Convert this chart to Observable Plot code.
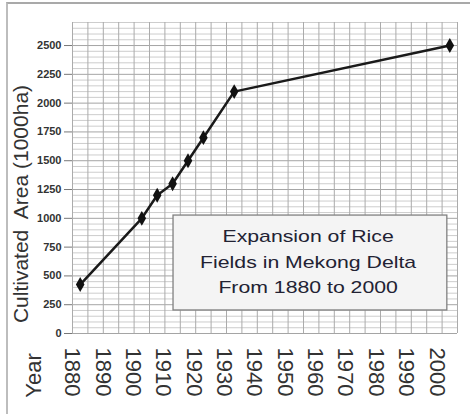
<!DOCTYPE html>
<html><head><meta charset="utf-8">
<script src="https://cdn.jsdelivr.net/npm/d3@7"></script>
<script src="https://cdn.jsdelivr.net/npm/@observablehq/plot@0.6"></script>
<style>
body{margin:0;background:#fff;}
#wrap{position:relative;width:470px;height:414px;overflow:hidden;background:#fff;}
#border{position:absolute;left:6px;top:2px;width:600px;height:600px;border-left:2px solid #bdbdbd;border-top:2px solid #a9a9a9;pointer-events:none;}
svg{font-family:"Liberation Sans", Arial, sans-serif;}
</style></head><body>
<div id="wrap"><div id="chart"></div><div id="border"></div></div>
<script>
// Data
const years = [1880, 1900, 1905, 1910, 1915, 1920, 1930, 2000];
const area  = [425, 1000, 1200, 1300, 1500, 1700, 2100, 2500];
const yTicks = [0, 250, 500, 750, 1000, 1250, 1500, 1750, 2000, 2250, 2500];
const yearLabels = [1880, 1890, 1900, 1910, 1920, 1930, 1940, 1950, 1960, 1970, 1980, 1990, 2000];
const titleLines = ["Expansion of Rice", "Fields in Mekong Delta", "From 1880 to 2000"];
const yTitle = "Cultivated  Area (1000ha)";
const xTitle = "Year";

const rows = years.map((y, i) => ({year: y, area: area[i]}));

// layout helpers (annotation placement in data units)
const xDomain = [1877.5, 2002.5];
const labelPos = L => 1877.5 + (L - 1880) * 0.985;
const labelMap = new Map(yearLabels.map(L => [labelPos(L), L]));
const box = {x1: 1910.3, x2: 1999.2, y1: 200, y2: 1024, tx: 1954, ty: 640};

const vGrid = d3.range(xDomain[0], xDomain[1] + 0.01, 5);
const hGridMinor = d3.range(0, 2701, 50).filter(v => v % 250 !== 0);
const hGridMajor = d3.range(0, 2701, 250);

const svg = Plot.plot({
  width: 470,
  height: 414,
  marginLeft: 72,
  marginRight: 13,
  marginTop: 22,
  marginBottom: 81,
  style: {fontFamily: '"Liberation Sans", Arial, sans-serif', background: "transparent"},
  x: {domain: xDomain},
  y: {domain: [0, 2700]},
  marks: [
    Plot.ruleY(hGridMinor, {stroke: "#cdcdcd", strokeWidth: 1}),
    Plot.ruleY(hGridMajor, {stroke: "#a5a5a5", strokeWidth: 1}),
    Plot.ruleX(vGrid, {stroke: "#ababab", strokeWidth: 1}),
    Plot.axisY({ticks: yTicks, tickFormat: d => String(d), tickSize: 8, tickPadding: 3,
      fontSize: 11, fontWeight: "bold", fill: "#333", stroke: "#777", label: null}),
    Plot.axisX({ticks: yearLabels.map(labelPos), tickFormat: d => String(labelMap.get(d)),
      tickRotate: 90, tickSize: 0, tickPadding: 14, fontSize: 22, fill: "#333", label: null}),
    Plot.text([yTitle], {text: d => d, frameAnchor: "left", textAnchor: "middle", dx: -51, dy: 26, rotate: -90,
      fontSize: 21, fill: "#333"}),
    Plot.text([xTitle], {text: d => d, frameAnchor: "bottom-left", textAnchor: "middle", dx: -32, dy: 42, rotate: -90,
      fontSize: 22, fill: "#333"}),
    Plot.line(rows, {x: "year", y: "area", stroke: "#1a1a1a", strokeWidth: 2.5}),
    Plot.dot(rows, {x: "year", y: "area", symbol: "diamond", r: 4.5, fill: "#111", stroke: "none"}),
    Plot.rect([box], {x1: d => d.x1, x2: d => d.x2, y1: d => d.y1, y2: d => d.y2,
      fill: "#f4f4f4", stroke: "#808080", strokeWidth: 1.3}),
    Plot.text([titleLines.join("\n")], {text: d => d, x: () => box.tx, y: () => box.ty,
      lineHeight: 1.5, fontSize: 17, fill: "#222233"})
  ]
});

d3.select(svg).selectAll("text").filter(function() {
  return this.textContent.includes("Expansion");
}).each(function() {
  const t = this.getAttribute("transform") || "";
  this.setAttribute("transform", t + " scale(1.25,1)");
});

document.getElementById("chart").appendChild(svg);
</script>
</body></html>
